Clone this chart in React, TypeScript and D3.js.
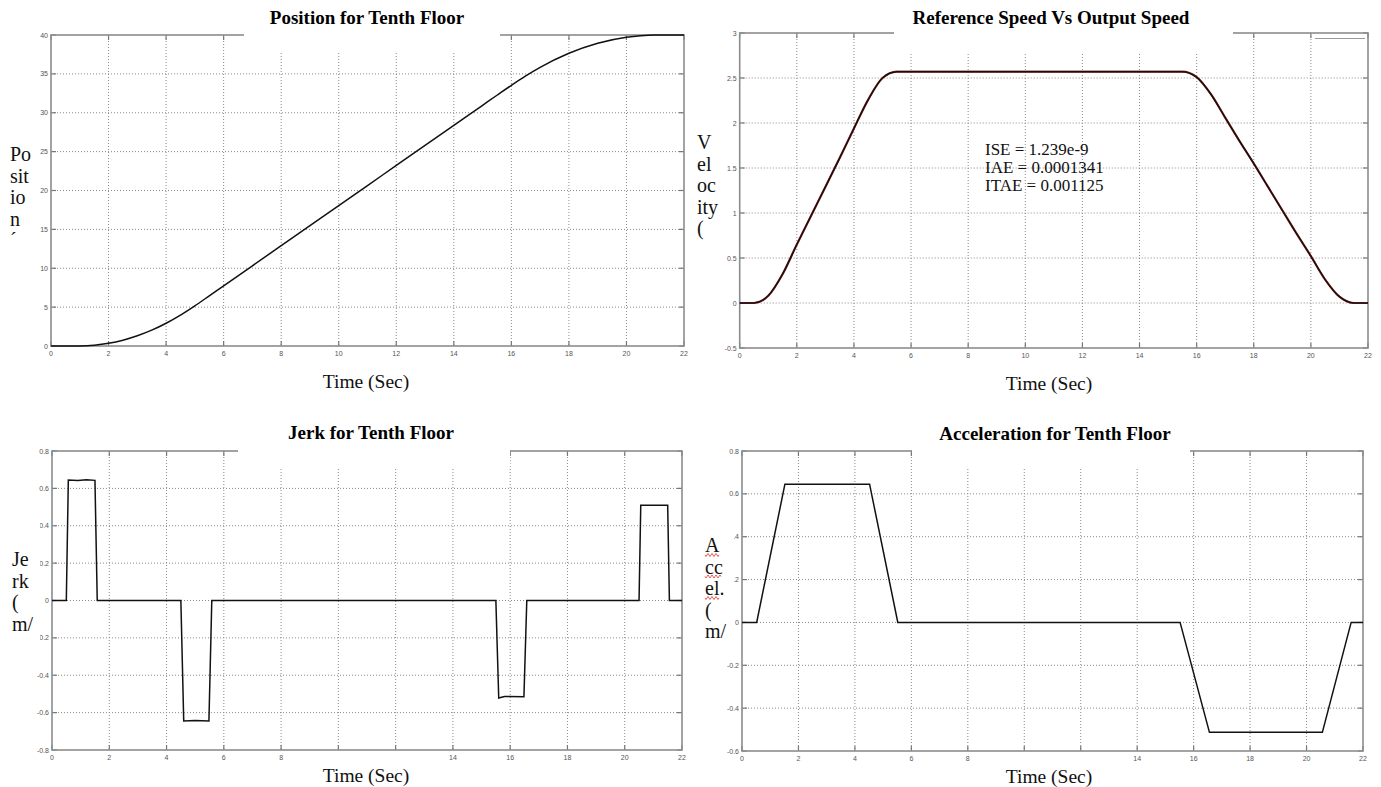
import React from "react";
import * as d3 from "d3";

// ---------- DATA ----------
const timeTicks = [0, 2, 4, 6, 8, 10, 12, 14, 16, 18, 20, 22];

const positionTime = [0, 0.5, 1, 1.5, 2, 2.5, 3, 3.5, 4, 4.5, 5, 5.5, 6, 7, 8, 9, 10, 11, 12, 13, 14, 15, 15.5, 16, 16.5, 17, 18, 19, 20, 20.5, 21, 21.5, 22];
const positionValues = [0, 0, 0.01, 0.11, 0.35, 0.75, 1.32, 2.04, 2.93, 3.98, 5.17, 6.45, 7.74, 10.32, 12.9, 15.48, 18.06, 20.64, 23.22, 25.8, 28.38, 30.96, 32.25, 33.53, 34.74, 35.84, 37.65, 38.94, 39.72, 39.91, 39.99, 40, 40];
const positionTicks = [0, 5, 10, 15, 20, 25, 30, 35, 40];

const velocityTime = [0, 0.5, 1, 1.5, 2, 2.5, 3, 3.5, 4, 4.5, 5, 5.5, 15.5, 16, 16.5, 17, 17.5, 18, 18.5, 19, 19.5, 20, 20.5, 21, 21.5, 22];
const velocityValues = [0, 0, 0.08, 0.32, 0.65, 0.97, 1.29, 1.61, 1.94, 2.26, 2.5, 2.57, 2.57, 2.51, 2.32, 2.06, 1.8, 1.55, 1.29, 1.03, 0.77, 0.52, 0.26, 0.07, 0, 0];
const velocityTicks = [-0.5, 0, 0.5, 1, 1.5, 2, 2.5, 3];
const errorLines = ["ISE = 1.239e-9", "IAE = 0.0001341", "ITAE = 0.001125"];

const jerkTime = [0, 0.5, 0.57, 0.9, 1.2, 1.5, 1.58, 4.5, 4.6, 5.0, 5.48, 5.58, 15.5, 15.6, 15.8, 16.48, 16.58, 20.5, 20.56, 21.5, 21.56, 22];
const jerkValues = [0, 0, 0.645, 0.642, 0.646, 0.643, 0, 0, -0.645, -0.642, -0.645, 0, 0, -0.522, -0.514, -0.515, 0, 0, 0.51, 0.51, 0, 0];
const jerkTicks = [-0.8, -0.6, -0.4, -0.2, 0, 0.2, 0.4, 0.6, 0.8];

const accelTime = [0, 0.52, 1.52, 4.52, 5.52, 15.52, 16.56, 20.56, 21.58, 22];
const accelValues = [0, 0, 0.645, 0.645, 0, 0, -0.513, -0.513, 0, 0];
const accelTicks = [-0.6, -0.4, -0.2, 0, 0.2, 0.4, 0.6, 0.8];

type PanelProps = {
  left: number; right: number; top: number; bottom: number;
  yDomain: [number, number]; yTicks: number[];
  t: number[]; v: number[];
  title: string; titleX: number; titleY: number;
  gapFrom: number; gapTo: number; gapBottom: number;
  yLabel: string[]; yLabelX: number; yLabelY: number; yLabelBox?: [number, number, number, number];
  xLabelX: number; xLabelY: number; xLabelBox?: [number, number, number, number];
  fmt: (d: number) => string;
  smoothLine?: boolean;
  refLine?: boolean;
  squiggle?: number[];
};

function Panel(p: PanelProps) {
  const x = d3.scaleLinear().domain([0, 22]).range([p.left, p.right]);
  const y = d3.scaleLinear().domain(p.yDomain).range([p.bottom, p.top]);
  const pts = p.t.map((t, i) => [t, p.v[i]] as [number, number]);
  const line = d3.line<[number, number]>().x(d => x(d[0])).y(d => y(d[1]));
  const smooth = d3.line<[number, number]>().x(d => x(d[0])).y(d => y(d[1])).curve(d3.curveMonotoneX);
  const path = p.smoothLine ? smooth(pts) : line(pts);
  const grid = "#8a8a8a";
  const tickFont = { fontFamily: "Liberation Sans, Arial", fontSize: 7, fill: "#555" } as const;
  return (
    <g>
      {timeTicks.slice(1, -1).map(t => (
        <line key={"gx" + t} x1={x(t)} x2={x(t)} y1={p.top} y2={p.bottom} stroke={grid} strokeDasharray="1,2" strokeWidth={1} />
      ))}
      {p.yTicks.slice(1, -1).map(v => (
        <line key={"gy" + v} x1={p.left} x2={p.right} y1={y(v)} y2={y(v)} stroke={grid} strokeDasharray="1,2" strokeWidth={1} />
      ))}
      {timeTicks.map(t => (
        <g key={"tx" + t}>
          <line x1={x(t)} x2={x(t)} y1={p.bottom} y2={p.bottom - 5} stroke="#777" strokeWidth={1.2} />
          <line x1={x(t)} x2={x(t)} y1={p.top} y2={p.top + 5} stroke="#777" strokeWidth={1.2} />
          <text x={x(t)} y={p.bottom + 10} textAnchor="middle" {...tickFont}>{t}</text>
        </g>
      ))}
      {p.yTicks.map(v => (
        <g key={"ty" + v}>
          <line x1={p.left} x2={p.left + 5} y1={y(v)} y2={y(v)} stroke="#777" strokeWidth={1.2} />
          <line x1={p.right} x2={p.right - 5} y1={y(v)} y2={y(v)} stroke="#777" strokeWidth={1.2} />
          <text x={p.left - 3} y={y(v) + 2.5} textAnchor="end" {...tickFont}>{p.fmt(v)}</text>
        </g>
      ))}
      <rect x={p.left} y={p.top} width={p.right - p.left} height={p.bottom - p.top} fill="none" stroke="#8c8c8c" strokeWidth={1.6} />
      {p.refLine && <path d={smooth(pts) || ""} fill="none" stroke="#b03030" strokeWidth={2.2} />}
      <path d={path || ""} fill="none" stroke="#111" strokeWidth={1.5} />
      <rect x={p.gapFrom} y={p.top - 20} width={p.gapTo - p.gapFrom} height={p.gapBottom} fill="#fff" />
      <text x={p.titleX} y={p.titleY} textAnchor="middle" fontFamily="Liberation Serif, Times New Roman" fontWeight="bold" fontSize={19} fill="#000">{p.title}</text>
      {p.yLabelBox && <rect x={p.yLabelBox[0]} y={p.yLabelBox[1]} width={p.yLabelBox[2]} height={p.yLabelBox[3]} fill="#fff" />}
      {p.yLabel.map((s, i) => (
        <text key={"yl" + i} x={p.yLabelX} y={p.yLabelY + i * 21.5} fontFamily="Liberation Serif, Times New Roman" fontSize={20} fill="#111">{s}</text>
      ))}
      {p.squiggle && p.squiggle.map((w, i) => {
        const sx = p.yLabelX;
        const sy = p.yLabelY + i * 21.5 + 3;
        let d = `M${sx},${sy}`;
        for (let k = 0; k < w; k += 2) d += ` l1,${k % 4 === 0 ? 1.5 : -1.5} l1,${k % 4 === 0 ? -1.5 : 1.5}`;
        return <path key={"sq" + i} d={d} fill="none" stroke="#e03030" strokeWidth={0.8} />;
      })}
      {p.xLabelBox && <rect x={p.xLabelBox[0]} y={p.xLabelBox[1]} width={p.xLabelBox[2]} height={p.xLabelBox[3]} fill="#fff" />}
      <text x={p.xLabelX} y={p.xLabelY} textAnchor="middle" fontFamily="Liberation Serif, Times New Roman" fontSize={19.5} fill="#111">Time (Sec)</text>
    </g>
  );
}

const f1 = d3.format("");
const fmtDec = (d: number) => (d === 0 ? "0" : String(d));

export default function App() {
  return (
    <svg width={1381} height={787} style={{ position: "absolute", left: 0, top: 0, background: "#fff" }}>
      <rect width={1381} height={787} fill="#fff" />
      <Panel left={51} right={684} top={35} bottom={346} yDomain={[0, 40]} yTicks={positionTicks}
        t={positionTime} v={positionValues} title="Position for Tenth Floor" titleX={367} titleY={24}
        gapFrom={244} gapTo={500} gapBottom={37} smoothLine={true}
        yLabel={["Po", "sit", "io", "n", "´"]} yLabelX={10} yLabelY={161}
        xLabelX={366} xLabelY={388} fmt={f1} />
      <Panel left={739.7} right={1368} top={33} bottom={348} yDomain={[-0.5, 3]} yTicks={velocityTicks}
        t={velocityTime} v={velocityValues} title="Reference Speed Vs Output Speed" titleX={1051} titleY={24}
        gapFrom={894} gapTo={1233} gapBottom={39} smoothLine={true}
        yLabel={["V", "el", "oc", "ity", "("]} yLabelX={697} yLabelY={149}
        xLabelX={1049} xLabelY={390} fmt={fmtDec} refLine={true} />
      <line x1={1315} x2={1365} y1={38.5} y2={38.5} stroke="#999" strokeWidth={1} />
      {errorLines.map((s, i) => (
        <text key={s} x={985} y={155 + i * 18} fontFamily="Liberation Serif, Times New Roman" fontSize={17} fill="#111">{s}</text>
      ))}
      <Panel left={52} right={682} top={451} bottom={750} yDomain={[-0.8, 0.8]} yTicks={jerkTicks}
        t={jerkTime} v={jerkValues} title="Jerk for Tenth Floor" titleX={371} titleY={439}
        gapFrom={238} gapTo={510} gapBottom={36}
        yLabel={["Je", "rk", "(", "m/"]} yLabelX={12} yLabelY={566} yLabelBox={[8, 518, 32, 132]}
        xLabelX={366} xLabelY={782} xLabelBox={[300, 754, 135, 33]} fmt={fmtDec} />
      <Panel left={742} right={1363} top={451} bottom={751} yDomain={[-0.6, 0.8]} yTicks={accelTicks}
        t={accelTime} v={accelValues} title="Acceleration for Tenth Floor" titleX={1055} titleY={440}
        gapFrom={912} gapTo={1190} gapBottom={36}
        yLabel={["A", "cc", "el.", "(", "m/"]} yLabelX={705} yLabelY={552} yLabelBox={[700, 525, 34, 118]}
        squiggle={[14, 16, 14]}
        xLabelX={1049} xLabelY={783} xLabelBox={[985, 755, 135, 32]} fmt={fmtDec} />
    </svg>
  );
}
